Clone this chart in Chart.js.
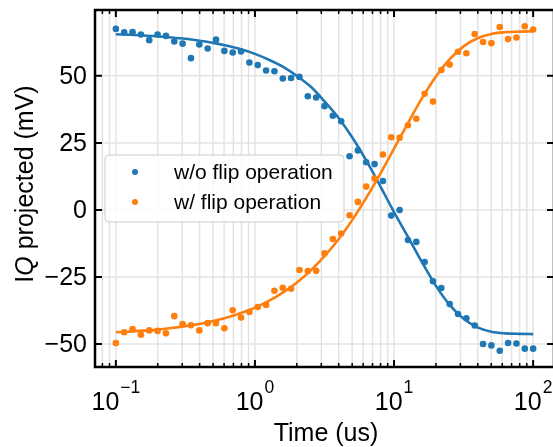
<!DOCTYPE html>
<html>
<head>
<meta charset="utf-8">
<script src="https://cdn.jsdelivr.net/npm/chart.js@4/dist/chart.umd.min.js"></script>
<style>
  html, body { margin: 0; padding: 0; overflow: hidden; background: #fff; }
  #wrap { width: 560px; height: 447px; }
</style>
</head>
<body>
<div id="wrap"><canvas id="flipChart" width="560" height="447"></canvas></div>
<script>
// measurement times (us)
const times = [
  0.1, 0.1148, 0.1318, 0.1514, 0.1738, 0.1995, 0.2291, 0.2630, 0.3020, 0.3467,
  0.3981, 0.4571, 0.5248, 0.6026, 0.6918, 0.7943, 0.9120, 1.0471, 1.2023, 1.3804,
  1.5849, 1.8197, 2.0893, 2.3988, 2.7542, 3.1623, 3.6308, 4.1687, 4.7863, 5.4954,
  6.3096, 7.2444, 8.3176, 9.5499, 10.965, 12.589, 14.454, 16.596, 19.055, 21.878,
  25.119, 28.840, 33.113, 38.019, 43.652, 50.119, 57.544, 66.069, 75.858, 87.096, 100
];

// IQ projected (mV)
const woFlip = [
  67.5, 66.2, 66.3, 65.4, 63.3, 65.4, 64.9, 62.8, 62.0, 56.6,
  61.7, 60.2, 63.5, 59.3, 58.7, 59.1, 55.0, 54.0, 52.0, 51.7,
  49.0, 49.2, 49.6, 42.4, 41.9, 38.7, 35.1, 33.1, 20.0, 22.2,
  17.8, 17.1, 10.8, -2.1, 0.0, -11.2, -11.9, -19.4, -26.6, -29.1,
  -35.1, -38.8, -40.4, -43.1, -50.0, -50.5, -52.5, -49.6, -49.8, -51.7, -51.7
];
const wFlip = [
  -49.6, -45.6, -44.4, -46.5, -44.9, -45.1, -46.0, -39.6, -42.5, -43.0,
  -44.9, -42.2, -42.2, -44.1, -37.4, -40.1, -38.0, -36.2, -35.4, -30.1,
  -29.0, -29.4, -22.4, -22.8, -22.7, -16.2, -10.8, -8.8, -2.0, 3.0,
  8.7, 11.7, 20.7, 27.1, 26.9, 31.6, 34.0, 43.3, 40.4, 52.2,
  54.2, 59.0, 58.4, 65.6, 62.6, 62.2, 68.2, 63.7, 64.3, 68.5, 67.3
];

// fitted curves
const fitTimes = [
  0.1, 0.1259, 0.1585, 0.1995, 0.2512, 0.3162, 0.3981, 0.5012, 0.6310, 0.7943,
  1, 1.259, 1.585, 1.995, 2.512, 3.162, 3.981, 5.012, 6.310, 7.943,
  10, 12.59, 15.85, 19.95, 25.12, 31.62, 39.81, 50.12, 63.10, 79.43, 100
];
const woFlipFit = [
  65.5, 65.3, 65.05, 64.7, 64.3, 63.8, 63.1, 62.3, 61.2, 59.9,
  58.2, 56.0, 53.4, 50.0, 46.0, 40.5, 34.4, 27.0, 18.5, 9.0,
  -0.8, -10.0, -19.4, -28.2, -35.4, -40.6, -43.8, -45.4, -46.0, -46.2, -46.3
];
const wFlipFit = [
  -45.6, -45.35, -45.0, -44.6, -44.0, -43.3, -42.5, -41.4, -40.1, -38.4,
  -36.4, -33.9, -30.8, -27.1, -22.6, -17.2, -11.0, -3.7, 4.5, 13.4,
  22.9, 32.4, 41.6, 49.7, 56.2, 61.0, 64.0, 65.6, 66.3, 66.5, 66.6
];

const seriesNames = ['w/o flip operation', 'w/ flip operation'];
const yTicks = [-50, -25, 0, 25, 50];
const xTickExps = [-1, 0, 1, 2];
const xTitle = 'Time (us)';

const BLUE = '#1f77b4';
const ORANGE = '#ff7f0e';
const FONT = '"Liberation Sans", Arial, sans-serif';

const pts = (xs, ys) => ys.map((v, i) => ({ x: xs[i], y: v }));
const fmt = v => (v < 0 ? '\u2212' + Math.abs(v) : String(v));

function logTickValues(scale) {
  const out = [];
  const lo = Math.floor(Math.log10(scale.min));
  const hi = Math.ceil(Math.log10(scale.max));
  for (let e = lo; e <= hi; e++) {
    for (let m = 1; m <= 9; m++) {
      const v = m * Math.pow(10, e);
      if (v >= scale.min && v <= scale.max) out.push({ v, major: m === 1 });
    }
  }
  return out;
}

// matplotlib-like frame: grid, inward ticks, spines, labels, legend
const mplFrame = {
  id: 'mplFrame',
  beforeDatasetsDraw(chart) {
    const { ctx, chartArea: a, scales: { x, y } } = chart;
    ctx.save();
    ctx.beginPath();
    ctx.rect(a.left, a.top, a.right - a.left, a.bottom - a.top);
    ctx.clip();
    ctx.strokeStyle = '#e3e3e3';
    ctx.lineWidth = 1.5;
    logTickValues(x).forEach(t => {
      const px = x.getPixelForValue(t.v);
      ctx.beginPath(); ctx.moveTo(px, a.top); ctx.lineTo(px, a.bottom); ctx.stroke();
    });
    yTicks.forEach(v => {
      const py = y.getPixelForValue(v);
      ctx.beginPath(); ctx.moveTo(a.left, py); ctx.lineTo(a.right, py); ctx.stroke();
    });
    ctx.restore();
  },
  afterDraw(chart) {
    const { ctx, chartArea: a, scales: { x, y } } = chart;
    ctx.save();
    ctx.strokeStyle = '#000';

    // ticks (inward, all four sides)
    logTickValues(x).forEach(t => {
      const px = x.getPixelForValue(t.v);
      const len = t.major ? 7 : 4;
      ctx.lineWidth = t.major ? 2 : 1.5;
      ctx.beginPath();
      ctx.moveTo(px, a.bottom); ctx.lineTo(px, a.bottom - len);
      ctx.moveTo(px, a.top); ctx.lineTo(px, a.top + len);
      ctx.stroke();
    });
    ctx.lineWidth = 2;
    yTicks.forEach(v => {
      const py = y.getPixelForValue(v);
      ctx.beginPath();
      ctx.moveTo(a.left, py); ctx.lineTo(a.left + 7, py);
      ctx.moveTo(a.right, py); ctx.lineTo(a.right - 7, py);
      ctx.stroke();
    });

    // spines
    ctx.lineWidth = 2.5;
    ctx.strokeRect(a.left, a.top, a.right - a.left, a.bottom - a.top);

    // y tick labels
    ctx.fillStyle = '#000';
    ctx.font = `25px ${FONT}`;
    ctx.textAlign = 'right';
    ctx.textBaseline = 'middle';
    yTicks.forEach(v => ctx.fillText(fmt(v), a.left - 8, y.getPixelForValue(v) + 1));

    // x tick labels 10^n
    ctx.textAlign = 'left';
    ctx.textBaseline = 'alphabetic';
    xTickExps.forEach(e => {
      const px = x.getPixelForValue(Math.pow(10, e));
      ctx.font = `25px ${FONT}`;
      const wb = ctx.measureText('10').width;
      ctx.font = `17.5px ${FONT}`;
      const sup = fmt(e);
      const ws = ctx.measureText(sup).width;
      const left = px - (wb + 1 + ws) / 2;
      ctx.font = `25px ${FONT}`;
      ctx.fillText('10', left, 410);
      ctx.font = `17.5px ${FONT}`;
      ctx.fillText(sup, left + wb + 1, 393);
    });

    // axis titles
    ctx.font = `25px ${FONT}`;
    ctx.textAlign = 'center';
    ctx.fillText(xTitle, 326, 441);

    ctx.save();
    ctx.translate(33, 184);
    ctx.rotate(-Math.PI / 2);
    ctx.textAlign = 'left';
    const parts = [
      { t: 'I', f: `25px ${FONT}` },
      { t: 'Q', f: `italic 25px ${FONT}` },
      { t: ' projected (mV)', f: `25px ${FONT}` }
    ];
    let total = 0;
    parts.forEach(p => { ctx.font = p.f; p.w = ctx.measureText(p.t).width; total += p.w; });
    let cx = -total / 2;
    parts.forEach(p => { ctx.font = p.f; ctx.fillText(p.t, cx, 0); cx += p.w; });
    ctx.restore();

    // legend
    const lx = 105, ly = 155, lw = 239, lh = 67;
    ctx.beginPath();
    ctx.roundRect(lx, ly, lw, lh, 4);
    ctx.fillStyle = 'rgba(255,255,255,0.85)';
    ctx.fill();
    ctx.strokeStyle = '#cccccc';
    ctx.lineWidth = 1;
    ctx.stroke();
    ctx.font = `21px ${FONT}`;
    ctx.textAlign = 'left';
    ctx.textBaseline = 'middle';
    [BLUE, ORANGE].forEach((c, i) => {
      const ry = 172 + i * 30;
      ctx.fillStyle = c;
      ctx.beginPath(); ctx.arc(135, ry, 3, 0, Math.PI * 2); ctx.fill();
      ctx.fillStyle = '#000';
      ctx.fillText(seriesNames[i], 174, ry + 1);
    });
    ctx.restore();
  }
};

const ctx = document.getElementById('flipChart').getContext('2d');

const flipChart = new Chart(ctx, {
  type: 'scatter',
  data: {
    datasets: [
      {
        label: seriesNames[0],
        data: pts(times, woFlip),
        backgroundColor: BLUE,
        borderWidth: 0,
        pointRadius: 3.3,
        order: 4
      },
      {
        type: 'line',
        label: seriesNames[0] + ' fit',
        data: pts(fitTimes, woFlipFit),
        borderColor: BLUE,
        borderWidth: 2.6,
        pointRadius: 0,
        fill: false,
        cubicInterpolationMode: 'monotone',
        order: 3
      },
      {
        label: seriesNames[1],
        data: pts(times, wFlip),
        backgroundColor: ORANGE,
        borderWidth: 0,
        pointRadius: 3.3,
        order: 2
      },
      {
        type: 'line',
        label: seriesNames[1] + ' fit',
        data: pts(fitTimes, wFlipFit),
        borderColor: ORANGE,
        borderWidth: 2.6,
        pointRadius: 0,
        fill: false,
        cubicInterpolationMode: 'monotone',
        order: 1
      }
    ]
  },
  options: {
    responsive: false,
    animation: false,
    devicePixelRatio: 1,
    events: [],
    layout: { padding: { left: 95, right: 6, top: 10, bottom: 80 } },
    plugins: {
      legend: { display: false },
      tooltip: { enabled: false }
    },
    scales: {
      x: { type: 'logarithmic', min: 0.0708, max: 141.25, display: false },
      y: { type: 'linear', min: -58.55, max: 74.55, display: false }
    }
  },
  plugins: [mplFrame]
});
</script>
</body>
</html>
